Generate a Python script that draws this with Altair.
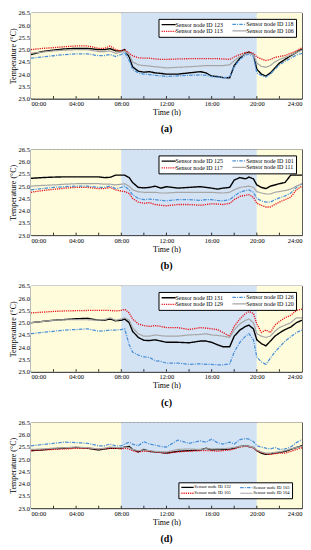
import altair as alt
import pandas as pd

FONT = "Liberation Serif"

T = [0, 1, 2, 3, 4, 5, 6, 6.5, 7, 7.5, 8, 8.3, 8.7, 9, 9.5, 10, 10.5, 11, 11.5, 12, 13, 14, 15, 15.5,
     16, 16.5, 17, 17.6, 18, 18.5, 19, 19.3, 19.7, 20, 20.4, 20.8, 21.2, 21.6, 22, 22.5, 23, 23.5, 24]

# ---- panel (a)
a_ids = ["123", "113", "118", "106"]
a_123 = [24.80, 24.92, 24.98, 25.03, 25.05, 25.05, 25.00, 25.00, 25.04, 24.95, 24.95, 25.00, 24.70, 24.30, 24.12, 24.08, 24.10, 24.05, 24.03, 24.00, 24.00, 24.05, 24.10, 24.05,
         23.92, 23.90, 23.86, 23.85, 24.35, 24.65, 24.85, 24.90, 24.80, 24.20, 24.00, 23.92, 24.05, 24.25, 24.45, 24.60, 24.75, 24.88, 25.02]
a_118 = [24.65, 24.70, 24.75, 24.80, 24.83, 24.83, 24.75, 24.76, 24.80, 24.72, 24.80, 24.88, 24.55, 24.20, 24.05, 24.00, 23.98, 23.95, 23.93, 23.90, 23.93, 23.95, 23.97, 23.95,
         23.90, 23.88, 23.85, 23.88, 24.30, 24.60, 24.78, 24.82, 24.72, 24.05, 23.95, 23.88, 24.00, 24.20, 24.38, 24.52, 24.65, 24.78, 24.85]
a_113 = [25.00, 25.05, 25.08, 25.12, 25.15, 25.15, 25.05, 25.05, 25.15, 25.00, 24.95, 25.00, 24.85, 24.75, 24.67, 24.65, 24.65, 24.62, 24.60, 24.60, 24.62, 24.63, 24.63, 24.63,
         24.63, 24.63, 24.62, 24.60, 24.70, 24.80, 24.88, 24.90, 24.85, 24.70, 24.62, 24.55, 24.60, 24.68, 24.72, 24.76, 24.85, 24.95, 25.08]
a_106 = [24.85, 24.90, 24.95, 24.98, 25.00, 25.00, 24.92, 24.92, 24.95, 24.85, 24.90, 24.95, 24.80, 24.50, 24.38, 24.35, 24.33, 24.30, 24.28, 24.25, 24.28, 24.30, 24.33, 24.35,
         24.35, 24.35, 24.35, 24.38, 24.55, 24.72, 24.82, 24.85, 24.80, 24.45, 24.32, 24.28, 24.35, 24.50, 24.60, 24.68, 24.78, 24.88, 24.98]

# ---- panel (b)
b_ids = ["125", "117", "101", "111"]
b_125 = [25.32, 25.35, 25.37, 25.38, 25.38, 25.38, 25.38, 25.35, 25.36, 25.45, 25.45, 25.45, 25.35, 25.15, 24.95, 24.93, 24.95, 25.00, 24.92, 24.98, 24.92, 24.95, 24.98, 24.95,
         24.92, 24.88, 24.92, 24.95, 25.25, 25.35, 25.30, 25.37, 25.30, 25.05, 24.95, 24.90, 25.00, 25.05, 25.10, 25.15, 25.45, 25.45, 25.45]
b_101 = [24.85, 24.90, 24.95, 24.98, 25.00, 25.00, 24.95, 24.95, 25.00, 24.90, 24.95, 25.00, 24.85, 24.65, 24.50, 24.45, 24.47, 24.45, 24.42, 24.40, 24.45, 24.45, 24.42, 24.45,
         24.45, 24.42, 24.40, 24.45, 24.60, 24.75, 24.82, 24.85, 24.75, 24.50, 24.40, 24.35, 24.35, 24.45, 24.52, 24.60, 24.72, 24.95, 25.10]
b_117 = [24.75, 24.82, 24.87, 24.92, 24.95, 24.95, 24.90, 24.90, 24.95, 24.85, 24.80, 24.78, 24.70, 24.50, 24.35, 24.30, 24.33, 24.25, 24.22, 24.20, 24.25, 24.25, 24.22, 24.25,
         24.28, 24.27, 24.25, 24.30, 24.45, 24.58, 24.63, 24.65, 24.55, 24.30, 24.22, 24.15, 24.15, 24.25, 24.35, 24.45, 24.55, 24.85, 25.00]
b_111 = [25.00, 25.03, 25.05, 25.08, 25.10, 25.10, 25.10, 25.08, 25.08, 25.05, 25.08, 25.10, 25.00, 24.85, 24.77, 24.75, 24.75, 24.75, 24.72, 24.72, 24.75, 24.75, 24.75, 24.75,
         24.75, 24.73, 24.72, 24.75, 24.85, 24.95, 24.98, 25.00, 24.95, 24.78, 24.72, 24.68, 24.68, 24.75, 24.78, 24.82, 24.88, 25.00, 25.10]

# ---- panel (c)
c_ids = ["131", "129", "126", "120"]
c_131 = [25.00, 25.05, 25.10, 25.13, 25.16, 25.18, 25.10, 25.10, 25.15, 25.08, 25.10, 25.15, 25.00, 24.65, 24.40, 24.28, 24.27, 24.30, 24.25, 24.20, 24.20, 24.18, 24.25, 24.25,
         24.20, 24.10, 24.02, 24.02, 24.45, 24.70, 24.85, 24.90, 24.75, 24.30, 24.15, 24.05, 24.25, 24.45, 24.58, 24.72, 24.82, 25.00, 25.10]
c_126 = [24.55, 24.60, 24.65, 24.70, 24.72, 24.75, 24.65, 24.67, 24.70, 24.70, 24.72, 24.75, 24.10, 23.80, 23.68, 23.60, 23.58, 23.45, 23.42, 23.35, 23.35, 23.30, 23.32, 23.30,
         23.30, 23.28, 23.28, 23.32, 23.80, 24.20, 24.45, 24.55, 24.30, 23.60, 23.40, 23.30, 23.55, 23.80, 24.00, 24.25, 24.42, 24.60, 24.70]
c_129 = [25.40, 25.43, 25.46, 25.48, 25.49, 25.50, 25.50, 25.50, 25.50, 25.48, 25.50, 25.55, 25.40, 25.15, 24.95, 24.88, 24.85, 24.88, 24.85, 24.80, 24.80, 24.72, 24.80, 24.78,
         24.75, 24.72, 24.60, 24.45, 24.85, 25.15, 25.38, 25.45, 25.38, 24.95, 24.60, 24.70, 24.60, 24.90, 25.05, 25.20, 25.30, 25.50, 25.55]
c_120 = [25.00, 25.05, 25.10, 25.12, 25.12, 25.12, 25.10, 25.12, 25.20, 25.10, 25.15, 25.20, 25.10, 24.80, 24.55, 24.45, 24.45, 24.50, 24.47, 24.45, 24.45, 24.50, 24.52, 24.55,
         24.50, 24.48, 24.45, 24.40, 24.70, 24.95, 25.10, 25.15, 25.00, 24.55, 24.45, 24.40, 24.45, 24.65, 24.80, 24.90, 25.00, 25.20, 25.20]

# ---- panel (d)
d_ids = ["132", "105", "103", "104"]
d_132 = [25.35, 25.38, 25.43, 25.45, 25.48, 25.45, 25.38, 25.42, 25.45, 25.45, 25.45, 25.50, 25.52, 25.40, 25.30, 25.40, 25.32, 25.30, 25.28, 25.25, 25.32, 25.35, 25.38, 25.45,
         25.38, 25.40, 25.40, 25.42, 25.45, 25.52, 25.55, 25.52, 25.48, 25.35, 25.25, 25.20, 25.22, 25.25, 25.28, 25.32, 25.40, 25.48, 25.55]
d_103 = [25.55, 25.60, 25.65, 25.70, 25.68, 25.65, 25.55, 25.55, 25.62, 25.55, 25.55, 25.62, 25.70, 25.62, 25.55, 25.72, 25.62, 25.58, 25.52, 25.50, 25.78, 25.65, 25.75, 25.70,
         25.82, 25.68, 25.62, 25.70, 25.62, 25.80, 25.85, 25.82, 25.72, 25.55, 25.50, 25.45, 25.42, 25.48, 25.40, 25.42, 25.50, 25.68, 25.80]
d_105 = [25.35, 25.38, 25.40, 25.42, 25.45, 25.45, 25.42, 25.43, 25.45, 25.45, 25.42, 25.45, 25.42, 25.35, 25.30, 25.33, 25.32, 25.30, 25.27, 25.25, 25.30, 25.33, 25.35, 25.35,
         25.35, 25.33, 25.35, 25.38, 25.42, 25.50, 25.53, 25.52, 25.45, 25.35, 25.28, 25.22, 25.20, 25.23, 25.25, 25.25, 25.32, 25.40, 25.47]
d_104 = [25.40, 25.42, 25.45, 25.47, 25.50, 25.47, 25.42, 25.45, 25.50, 25.48, 25.47, 25.50, 25.48, 25.40, 25.35, 25.38, 25.35, 25.32, 25.30, 25.30, 25.40, 25.42, 25.40, 25.43,
         25.42, 25.42, 25.43, 25.45, 25.48, 25.52, 25.55, 25.53, 25.48, 25.38, 25.30, 25.25, 25.25, 25.28, 25.30, 25.35, 25.42, 25.48, 25.52]

# background periods
band_start = [0, 8, 20]
band_end = [8, 20, 24]
band_kind = ["night1", "day", "night2"]
band_colors = ["#FEFCDB", "#D3E3F4", "#FEFCDB"]

tick_hours = [2, 4, 6, 8, 10, 12, 14, 16, 18, 20, 22]
label_hours = [0, 4, 8, 12, 16, 20, 24]
y_ticks = [23.0, 23.5, 24.0, 24.5, 25.0, 25.5, 26.0, 26.5]

# legend order (column-major): black, red, blue, gray
line_colors = ["#000000", "#E8141B", "#4A90D9", "#A6A6A6"]
line_dashes = [[1, 0], [1.2, 1.0], [3.5, 1.2, 1, 1.2], [1, 0]]
line_widths = [1.4, 1.2, 1.0, 1.0]

W, H = 272, 86

bands_df = pd.DataFrame({"a": band_start, "b": band_end, "k": band_kind})
ticks_df = pd.DataFrame({"h": tick_hours})


def xenc(field):
    return alt.X(f"{field}:Q", scale=alt.Scale(domain=[0, 24], nice=False),
                 axis=alt.Axis(values=label_hours, title="Time (h)", ticks=False, grid=False,
                               labelExpr="(datum.value < 10 ? '0' : '') + datum.value + ':00'"))


def panel(ids, series, caption, orient, lab_size, sym_size, offset):
    names = [f"Sensor node ID {i}" for i in ids]
    rows = []
    for n, vals in zip(names, series):
        for t, v in zip(T, vals):
            rows.append({"t": t, "v": v, "s": n})
    df = pd.DataFrame(rows)
    yenc = alt.Y("v:Q", scale=alt.Scale(domain=[23, 26.5], nice=False, zero=False),
                 axis=alt.Axis(values=y_ticks, format=".1f", title="Temperature (°C)",
                               grid=True, ticks=False))
    bands = alt.Chart(bands_df).mark_rect().encode(
        x=xenc("a"), x2="b:Q",
        fill=alt.Fill("k:N", scale=alt.Scale(domain=band_kind, range=band_colors), legend=None),
    )
    leg = alt.Legend(title=None, orient=orient, offset=offset, columns=2, columnPadding=6,
                     rowPadding=0, padding=2, fillColor="white", strokeColor="black",
                     symbolType="M-1,0H5", symbolSize=sym_size, labelFontSize=lab_size,
                     labelFont=FONT, labelOffset=8, labelColor="black")
    lines = alt.Chart(df).mark_line(clip=True).encode(
        x=xenc("t"), y=yenc,
        stroke=alt.Stroke("s:N", scale=alt.Scale(domain=names, range=line_colors), legend=leg),
        strokeDash=alt.StrokeDash("s:N", scale=alt.Scale(domain=names, range=line_dashes), legend=leg),
        strokeWidth=alt.StrokeWidth("s:N", scale=alt.Scale(domain=names, range=line_widths), legend=leg),
    )
    mticks = alt.Chart(ticks_df).mark_rule(color="black", strokeWidth=0.8).encode(
        x=xenc("h"), y=alt.value(H), y2=alt.value(H - 2.5)
    )
    return alt.layer(bands, lines, mticks).resolve_scale(
        stroke="independent", strokeDash="independent", strokeWidth="independent"
    ).properties(
        width=W, height=H,
        title=alt.TitleParams(caption, orient="bottom", font=FONT, fontSize=10,
                              fontWeight="bold", offset=8, anchor="middle", color="black"),
    )


pa = panel(a_ids, [a_123, a_113, a_118, a_106], "(a)", "top-right", 6, 22, 6)
pb = panel(b_ids, [b_125, b_117, b_101, b_111], "(b)", "top-right", 6, 22, 6)
pc = panel(c_ids, [c_131, c_129, c_126, c_120], "(c)", "top-right", 6, 22, 6)
pd_ = panel(d_ids, [d_132, d_105, d_103, d_104], "(d)", "bottom-right", 4.6, 17, 10)

chart = alt.vconcat(pa, pb, pc, pd_, spacing=10).resolve_scale(
    stroke="independent", strokeDash="independent", strokeWidth="independent", fill="shared"
).properties(
    padding={"left": 0, "top": 0, "right": 0, "bottom": 0}
).configure_view(
    stroke="black", strokeWidth=0.8
).configure_axis(
    labelFont=FONT, titleFont=FONT, labelFontSize=6.5, titleFontSize=8, labelColor="black",
    titleColor="black", titleFontWeight="normal", domainColor="black", domainWidth=0.8,
    gridColor="#C8C8C8", gridDash=[2, 2], gridWidth=0.5, labelPadding=2, titlePadding=1.5
).configure_axisY(
    labelPadding=1.5, titlePadding=1
)

chart.save("out.html", embed_options={"renderer": "svg", "actions": False})
